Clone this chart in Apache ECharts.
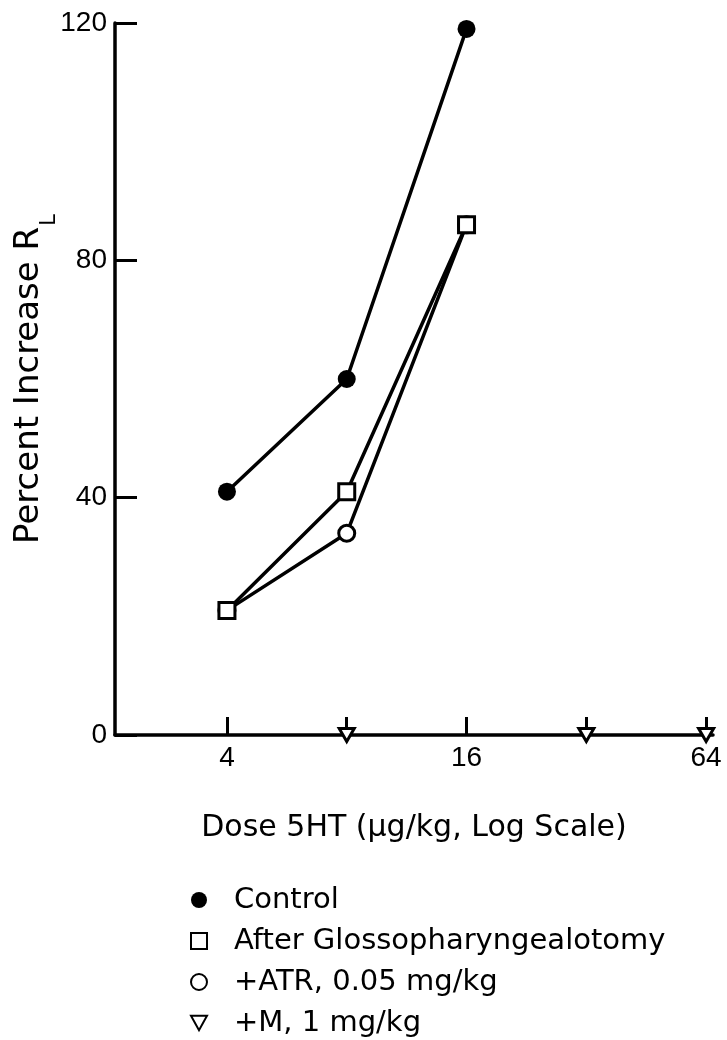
<!DOCTYPE html>
<html>
<head>
<meta charset="utf-8">
<script src="https://cdn.jsdelivr.net/npm/echarts@6/dist/echarts.min.js"></script>
<style>
  html, body { margin: 0; padding: 0; background: #fff; }
  #main { width: 727px; height: 1040px; }
</style>
</head>
<body>
<div id="main"></div>
<script>
//----------- Data
const doses = [4, 8, 16];
const control = [41, 60, 119];
const afterGlosso = [21, 41, 86];
const atr = [21, 34, 86];
const mDoses = [8, 32, 64];
const mValues = [0, 0, 0];

const xTickValues = [4, 8, 16, 32, 64];
const xLabelValues = [4, 16, 64];

const seriesNames = ["Control", "After Glossopharyngealotomy", "+ATR, 0.05 mg/kg", "+M, 1 mg/kg"];
//----------- Data

const pairs = (xs, ys) => xs.map((x, i) => [x, ys[i]]);
const downTriangle = "path://M0,0 L10,0 L5,9 Z";

const myChart = echarts.init(document.getElementById("main"));

const option = {
    backgroundColor: "#fff",
    animation: false,
    grid: { left: 115, right: 14, top: 23, bottom: 305, containLabel: false, outerBoundsMode: "none" },
    xAxis: {
        type: "log",
        logBase: 2,
        min: 2.093,
        max: 66.6,
        name: "Dose 5HT (\u03bcg/kg, Log Scale)",
        nameLocation: "middle",
        nameGap: 78,
        nameMoveOverlap: false,
        nameTextStyle: { fontFamily: "DejaVu Sans", fontSize: 30, color: "#000" },
        axisLine: { lineStyle: { color: "#000", width: 3.5 } },
        axisTick: { inside: true, length: 18, lineStyle: { color: "#000", width: 3 }, customValues: xTickValues },
        axisLabel: { customValues: xLabelValues, margin: 9, fontFamily: "Liberation Sans", fontSize: 28, color: "#000" },
        splitLine: { show: false }
    },
    yAxis: {
        type: "value",
        min: 0,
        max: 120,
        interval: 40,
        name: "Percent Increase R{sub|L}",
        nameLocation: "middle",
        nameRotate: 90,
        nameGap: 55,
        nameMoveOverlap: false,
        nameTextStyle: {
            fontFamily: "DejaVu Sans", fontSize: 34, color: "#000",
            rich: { sub: { fontFamily: "DejaVu Sans", fontSize: 21, color: "#000", padding: [40, 0, 0, 1] } }
        },
        axisLine: { show: true, lineStyle: { color: "#000", width: 3.5 } },
        axisTick: { show: true, inside: true, length: 22, lineStyle: { color: "#000", width: 3 } },
        axisLabel: { margin: 8, fontFamily: "Liberation Sans", fontSize: 28, color: "#000" },
        splitLine: { show: false }
    },
    legend: {
        orient: "vertical",
        left: 190,
        top: 885,
        padding: 0,
        itemWidth: 16,
        itemHeight: 16,
        itemGap: 11,
        selectedMode: false,
        textStyle: { fontFamily: "DejaVu Sans", fontSize: 29, lineHeight: 30, color: "#000", padding: [0, 0, 0, 22] },
        data: [
            { name: seriesNames[0], icon: "circle" },
            { name: seriesNames[1], icon: "rect" },
            { name: seriesNames[2], icon: "circle" },
            { name: seriesNames[3], icon: downTriangle }
        ]
    },
    series: [
        {
            name: seriesNames[2],
            type: "line",
            clip: false,
            symbol: "circle",
            symbolSize: 16,
            lineStyle: { color: "#000", width: 3.5 },
            itemStyle: { color: "#fff", borderColor: "#000", borderWidth: 3 },
            emphasis: { disabled: true },
            z: 2,
            data: pairs(doses, atr)
        },
        {
            name: seriesNames[1],
            type: "line",
            clip: false,
            symbol: "rect",
            symbolSize: 16,
            lineStyle: { color: "#000", width: 3.5 },
            itemStyle: { color: "#fff", borderColor: "#000", borderWidth: 3 },
            emphasis: { disabled: true },
            z: 3,
            data: pairs(doses, afterGlosso)
        },
        {
            name: seriesNames[0],
            type: "line",
            clip: false,
            symbol: "circle",
            symbolSize: 18,
            lineStyle: { color: "#000", width: 3.5 },
            itemStyle: { color: "#000", borderColor: "#000", borderWidth: 0 },
            emphasis: { disabled: true },
            z: 4,
            data: pairs(doses, control)
        },
        {
            name: seriesNames[3],
            type: "scatter",
            clip: false,
            symbol: downTriangle,
            symbolSize: [15, 13],
            itemStyle: { color: "#fff", borderColor: "#000", borderWidth: 3, opacity: 1 },
            emphasis: { disabled: true },
            z: 5,
            data: pairs(mDoses, mValues)
        }
    ]
};

myChart.setOption(option);
</script>
</body>
</html>
